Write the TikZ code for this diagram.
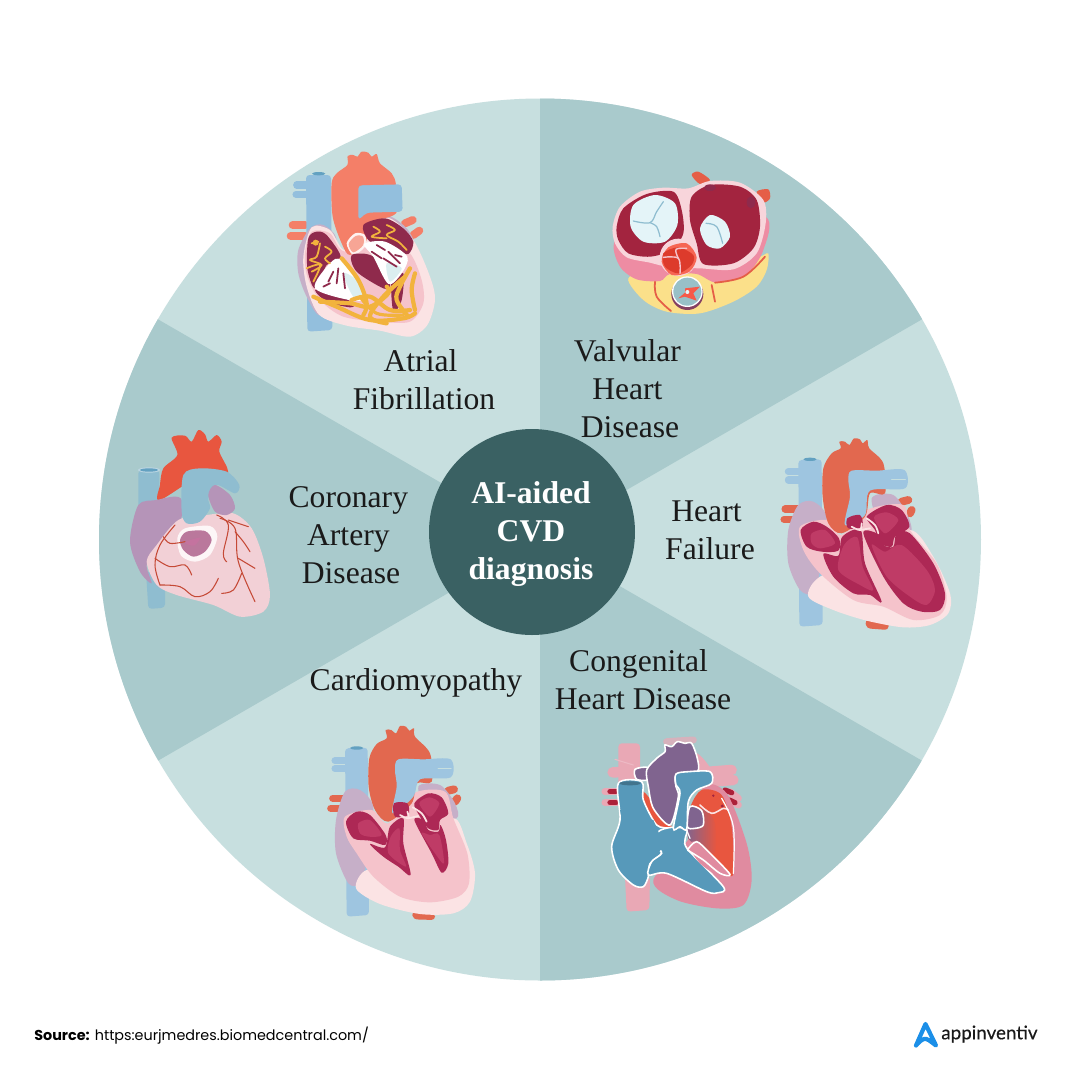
\documentclass[tikz,border=0pt]{standalone}
\usepackage{fontspec}
\setmainfont{Liberation Serif}
\newfontfamily\uisans{Poppins}
\newfontfamily\brandsans[FakeBold=0.3]{Lato}
\definecolor{wlite}{HTML}{C7DFDF}
\definecolor{wdark}{HTML}{A9CACC}
\definecolor{hub}{HTML}{3A6163}
\definecolor{inkc}{HTML}{1A1A1A}
\definecolor{vein}{HTML}{93BFDD}
\definecolor{veinB}{HTML}{8FBDD0}
\definecolor{sal}{HTML}{F47F68}
\definecolor{rust}{HTML}{E2684F}
\definecolor{lav}{HTML}{C6AFC8}
\definecolor{lavB}{HTML}{B594B8}
\definecolor{pale}{HTML}{FBE3E4}
\definecolor{pnk}{HTML}{F5C3CB}
\definecolor{mar}{HTML}{8F2A4C}
\definecolor{crim}{HTML}{AD2855}
\definecolor{crimL}{HTML}{BF3B66}
\definecolor{wine}{HTML}{A3243F}
\definecolor{ylw}{HTML}{F2B33D}
\definecolor{ice}{HTML}{E4F4F8}
\definecolor{butter}{HTML}{FBE08A}
\definecolor{band}{HTML}{EE8CA3}
\definecolor{cb}{HTML}{5799BA}
\definecolor{cpurp}{HTML}{80648F}
\definecolor{cpink}{HTML}{E08BA0}
\definecolor{cpale}{HTML}{E9A8B5}
\definecolor{cred}{HTML}{E8563F}
\definecolor{vred}{HTML}{DD3B2C}
\definecolor{ibody}{HTML}{F2D0D6}
\definecolor{logob}{HTML}{1B8FE8}
\newcommand{\blob}[2]{\fill[#1] plot[smooth cycle,tension=0.5] coordinates {#2};}
\newcommand{\oblob}[2]{\filldraw[#1,draw=white,line width=0.9pt] plot[smooth cycle,tension=0.5] coordinates {#2};}
\newcommand{\poly}[2]{\fill[#1,rounded corners=2pt] plot[sharp cycle] coordinates {#2};}
\newcommand{\wire}[3]{\draw[#1,line width=#2,line cap=round,line join=round] plot[smooth,tension=0.6] coordinates {#3};}
\tikzset{
  lbl/.style={font=\fontsize{18}{21.54}\selectfont,text=inkc,align=center,inner sep=0pt},
  hubtxt/.style={font=\fontsize{18}{21.54}\selectfont\bfseries,text=white,align=center,inner sep=0pt},
  zoomed/.style={shift={#1},scale=1/3}
}
\begin{document}
\begin{tikzpicture}[x=0.02cm,y=-0.02cm]
\useasboundingbox (0,0) rectangle (1080,1080);
\fill[white] (0,0) rectangle (1080,1080);
% wheel
\begin{scope}
\clip (540,539.5) circle[radius=441];
\fill[wlite] (0,0) rectangle (1080,1080);
\fill[wdark] (540,540) -- (540,60) -- (997,60) -- (997,276) -- cycle;
\fill[wdark] (540,540) -- (997,804) -- (997,1020) -- (540,1020) -- cycle;
\fill[wdark] (540,540) -- (83,276) -- (83,804) -- cycle;
\end{scope}

% ===== Atrial fibrillation heart =====
\begin{scope}[zoomed={(270,140)}]
\wire{vein}{4pt}{(80,135)(115,135)}
\wire{vein}{4pt}{(78,163)(115,163)}
\wire{sal}{4.5pt}{(68,255)(105,255)}
\wire{sal}{4.5pt}{(62,288)(105,288)}
\wire{sal}{4.5pt}{(405,250)(428,240)}
\wire{sal}{4.5pt}{(430,285)(448,272)}
\poly{vein}{(108,105)(183,105)(187,570)(112,575)}
\fill[cb!80!vein] (146,101) ellipse[x radius=20,y radius=5];
\blob{lav}{(120,265)(160,255)(200,300)(180,420)(150,525)(110,470)(85,400)(85,330)}
\blob{lav}{(270,235)(350,225)(410,265)(435,320)(400,350)(300,300)}
\blob{pale}{(125,262)(180,270)(225,330)(290,250)(360,235)(430,300)(480,410)(495,480)(472,555)(420,590)(330,572)(230,557)(148,525)(110,440)(100,350)}
\blob{pnk}{(125,275)(180,280)(225,335)(350,300)(420,340)(455,420)(460,490)(420,545)(330,545)(220,530)(150,480)(112,410)(105,340)}
\blob{sal}{(185,130)(200,100)(232,75)(233,48)(250,45)(262,50)(275,35)(295,38)(305,50)(320,42)(330,70)(365,100)(378,135)(378,220)(290,250)(290,300)(240,345)(215,310)(188,230)}
\blob{white!90!sal}{(230,310)(255,280)(285,285)(285,320)(250,345)}
\blob{sal!70!white}{(236,312)(257,288)(279,290)(279,316)(250,337)}
\poly{vein}{(265,136)(395,133)(398,215)(290,218)(265,240)}
\fill[sal] (265,135) .. controls (262,125) and (290,125) .. (300,135) -- cycle;
\blob{mar}{(115,295)(140,275)(170,285)(212,350)(170,375)(135,445)(112,385)}
\blob{mar}{(280,255)(345,235)(400,265)(430,305)(415,342)(375,330)(300,305)}
\blob{mar}{(245,345)(310,350)(360,435)(340,445)(260,395)}
\blob{mar}{(135,450)(180,452)(250,490)(240,502)(170,485)}
\blob{mar}{(365,420)(400,400)(395,480)(370,515)}
\blob{white}{(135,445)(180,370)(215,362)(290,465)(250,482)}
\blob{white}{(282,312)(345,305)(412,350)(395,400)(355,432)(310,350)}
\blob{ice!70!wlite}{(220,400)(260,420)(285,470)(250,470)}
\blob{ice!70!wlite}{(350,370)(395,385)(360,425)}
\wire{mar}{1pt}{(190,395)(175,425)}
\wire{mar}{1pt}{(205,385)(200,430)}
\wire{mar}{1pt}{(220,400)(225,445)}
\wire{mar}{1pt}{(180,430)(160,440)}
\wire{mar}{1pt}{(320,315)(345,330)}
\wire{mar}{1pt}{(305,335)(335,355)}
\wire{mar}{1pt}{(340,355)(380,380)}
\wire{mar}{1pt}{(355,335)(390,370)}
\wire{mar}{1pt}{(375,345)(395,350)}
% conduction lines
\wire{ylw}{1pt}{(125,310)(145,305)}
\wire{ylw}{1pt}{(150,310)(140,350)(120,360)(155,375)(125,395)}
\wire{ylw}{1pt}{(165,320)(185,335)(165,355)(180,370)}
\wire{ylw}{1pt}{(110,385)(150,375)(130,425)}
\wire{ylw}{1pt}{(310,260)(330,275)(305,290)(350,295)}
\wire{ylw}{1pt}{(350,255)(375,270)(350,285)(385,305)(410,330)}
\fill[ylw] (137,308) circle[radius=9];
\wire{ylw}{2.4pt}{(215,355)(265,420)(290,490)(280,525)}
\wire{ylw}{2.4pt}{(130,470)(200,500)(300,540)(400,535)(435,520)}
\wire{ylw}{2.4pt}{(150,485)(240,490)(300,500)(355,460)(350,440)}
\wire{ylw}{2.4pt}{(245,480)(300,470)(360,510)(420,510)}
\wire{ylw}{2.4pt}{(420,385)(390,440)(380,480)(415,530)}
\wire{ylw}{2.4pt}{(435,400)(425,450)(435,510)}
\wire{ylw}{2.4pt}{(405,410)(340,470)(300,530)(350,550)}
\wire{ylw}{1.8pt}{(270,470)(320,520)(400,525)}
\end{scope}

% ===== Valvular heart =====
\begin{scope}[zoomed={(600,170)}]
\blob{rust!90!red}{(275,15)(295,5)(330,30)(300,42)}
\blob{rust!90!red}{(470,65)(505,58)(510,85)(490,97)}
\blob{butter}{(85,325)(170,300)(350,310)(480,260)(505,250)(500,300)(470,350)(400,395)(300,430)(200,425)(130,390)}
\blob{band}{(42,220)(60,290)(110,328)(180,333)(210,312)(290,312)(350,338)(440,312)(490,240)(497,140)(300,120)(100,140)}
\blob{pnk!70!white}{(38,170)(60,110)(120,65)(190,53)(265,55)(330,33)(420,38)(490,90)(497,160)(470,250)(400,298)(300,295)(210,292)(150,278)(80,262)(45,220)}
\blob{wine}{(50,170)(70,115)(140,72)(220,65)(245,120)(250,190)(215,240)(150,260)(85,250)(55,210)}
\blob{wine}{(275,80)(330,45)(420,50)(470,90)(480,170)(460,235)(400,280)(310,282)(290,220)(270,150)}
\fill[mar] (330,53) ellipse[x radius=18,y radius=10];
\fill[mar] (453,97) ellipse[x radius=13,y radius=18];
\blob{ice}{(92,170)(100,105)(165,75)(225,100)(232,165)(195,215)(130,215)}
\wire{veinB}{0.7pt}{(100,153)(150,158)(170,125)(190,95)}
\wire{veinB}{0.7pt}{(150,158)(170,170)(180,200)}
\blob{ice}{(300,175)(330,135)(375,155)(390,200)(360,235)(320,225)}
\wire{veinB}{0.7pt}{(318,160)(350,170)(368,220)}
\fill[pnk!70!white] (235,262) circle[radius=56];
\blob{sal!80!red}{(205,232)(260,220)(290,262)(268,305)(215,315)(185,275)}
\blob{vred}{(190,250)(235,232)(280,255)(275,285)(235,310)(195,290)}
\wire{pnk}{0.8pt}{(190,262)(235,265)(240,310)}
\wire{pnk}{0.8pt}{(235,265)(228,238)(260,235)}
\fill[mar!80!cb] (262,372) circle[radius=48];
\fill[white] (262,365) circle[radius=46];
\fill[wdark!80!cb] (262,365) circle[radius=42];
\fill[sal!70!red] (255,355)--(300,350)--(280,370)--(290,392)--(255,380)--(235,385)--(255,368)--cycle;
\fill[ice] (262,366) circle[radius=6];
\wire{rust!90!red}{1pt}{(165,335)(170,380)(213,423)}
\wire{rust!90!red}{1pt}{(335,345)(345,395)}
\wire{rust!90!red}{1pt}{(345,338)(430,320)(495,260)}
\end{scope}

% ===== Heart failure heart =====
\begin{scope}[zoomed={(770,430)}]
\wire{vein!90!white}{4pt}{(55,125)(95,125)}
\wire{vein!90!white}{4pt}{(55,150)(95,150)}
\wire{rust}{4pt}{(45,237)(85,237)}
\wire{rust}{4pt}{(42,268)(85,268)}
\wire{rust}{4.5pt}{(395,215)(415,210)}
\wire{rust}{4.5pt}{(420,250)(425,240)}
\poly{vein!90!white}{(85,90)(155,88)(158,585)(88,590)}
\fill[cb!80!vein] (120,88) ellipse[x radius=20,y radius=5];
\poly{rust}{(285,570)(357,575)(355,600)(290,595)}
\blob{lav}{(85,225)(130,215)(170,265)(150,420)(130,490)(90,480)(55,400)(55,300)}
\blob{lav}{(305,205)(370,195)(415,260)(420,310)(340,300)}
\blob{pale}{(115,500)(150,440)(300,380)(420,300)(490,380)(540,490)(535,550)(480,585)(400,592)(290,572)(190,540)}
\blob{pnk}{(90,290)(170,270)(215,315)(290,240)(400,225)(420,300)(500,400)(530,500)(510,555)(430,570)(340,530)(250,510)(150,430)(100,360)}
\blob{rust}{(160,115)(185,70)(212,55)(208,35)(225,35)(238,45)(252,25)(270,28)(278,40)(292,30)(298,55)(340,100)(345,190)(300,190)(285,260)(215,310)(175,280)(158,200)}
\blob{vein!90!white}{(235,150)(245,122)(320,122)(403,120)(405,175)(300,182)(285,255)(225,285)(240,200)}
\wire{wlite}{0.8pt}{(365,149)(406,149)}
\blob{crim}{(92,300)(130,275)(170,290)(207,325)(205,362)(155,365)(110,350)}
\blob{crimL}{(125,310)(165,300)(195,340)(150,355)(125,340)}
\blob{crim}{(160,372)(205,377)(217,320)(272,300)(285,400)(335,515)(300,495)(250,490)(190,440)}
\blob{crimL}{(222,345)(262,322)(278,410)(310,480)(270,465)(205,420)}
\blob{crim}{(232,265)(270,255)(277,290)(235,295)}
\blob{crim}{(290,260)(350,225)(395,240)(418,290)(375,320)(365,350)(330,340)(315,300)}
\blob{crimL}{(312,262)(350,247)(385,270)(345,310)}
\blob{crim}{(280,310)(320,310)(340,345)(370,350)(380,310)(420,310)(490,400)(525,490)(510,540)(455,545)(400,520)(340,440)}
\blob{crimL}{(305,345)(345,365)(395,345)(470,420)(495,480)(470,525)(420,500)(350,440)}
\wire{pale}{1pt}{(290,265)(315,285)(325,310)}
\wire{pale}{1pt}{(275,280)(270,300)(245,290)}
\wire{pale}{1pt}{(270,300)(300,295)}
\end{scope}

% ===== Congenital heart =====
\begin{scope}[zoomed={(590,730)}]
\poly{cpale}{(85,40)(150,40)(150,170)(85,170)}
\poly{cpale}{(105,440)(180,440)(178,540)(110,545)}
\wire{cpale}{6pt}{(68,127)(140,125)}
\wire{cpale}{6pt}{(360,125)(425,120)}
\wire{cpale}{6pt}{(360,155)(430,150)}
\wire{cpale!70!wdark}{4pt}{(230,35)(310,30)}
\wire{cpale!80!white}{0.6pt}{(75,88)(130,105)}
\wire{cpale}{4pt}{(45,185)(90,185)}
\wire{cpale}{4pt}{(45,218)(90,218)}
\wire{cpale}{4pt}{(420,185)(445,205)}
\wire{cpale}{4pt}{(420,210)(445,225)}
\wire{wine!90!red}{3pt}{(60,185)(78,185)}
\wire{wine!90!red}{3pt}{(60,218)(78,218)}
\wire{wine!90!red}{3pt}{(405,180)(425,188)}
\wire{wine!90!red}{3pt}{(418,210)(435,218)}
\blob{cpale}{(320,70)(365,120)(380,175)(340,180)(300,120)}
\blob{cpink}{(190,450)(300,320)(340,170)(410,190)(470,340)(485,450)(460,525)(380,535)(260,510)}
\blob{cred}{(160,185)(195,225)(245,290)(200,285)(160,220)}
\oblob{cpurp}{(135,118)(175,113)(178,148)(140,148)}
\blob{cred}{(300,235)(335,180)(395,195)(425,290)(430,430)(400,425)(340,350)(295,325)}
\fill[wine] (370,197) circle[radius=4];
\fill[wine] (397,228) circle[radius=5];
\shade[left color=cpurp,right color=cred] plot[smooth cycle,tension=0.5] coordinates {(295,240)(345,240)(375,280)(375,370)(340,350)(295,325)};
\wire{pale}{0.9pt}{(330,225)(365,250)(400,235)(415,240)}
\oblob{cpurp}{(300,230)(335,242)(340,285)(315,295)(292,290)}
\oblob{cpurp}{(170,120)(200,85)(225,65)(225,45)(245,50)(262,35)(285,40)(305,40)(322,85)(322,125)(260,135)(258,170)(265,200)(240,285)(190,235)(175,170)}
\oblob{cb}{(85,160)(155,155)(160,210)(200,285)(240,295)(210,305)(200,350)(215,370)(180,400)(175,440)(160,470)(130,465)(85,420)(65,350)(90,270)}
\fill[cb!70!black!80!cb] (120,160) ellipse[x radius=32,y radius=6];
\oblob{cb}{(205,305)(245,292)(290,298)(285,330)(295,360)(400,470)(385,488)(350,485)(230,430)(175,435)(185,395)(215,370)(200,345)}
\fill[cb] (90,240) -- (190,270) -- (220,340) -- (170,410) -- (120,380) -- cycle;
\fill[cb] (200,320) -- (230,340) -- (180,395) -- (170,370) -- cycle;
\oblob{cb}{(258,132)(295,125)(360,125)(365,160)(320,180)(295,215)(290,297)(270,290)(250,295)(270,190)(258,165)}
\blob{cpink}{(295,345)(320,335)(350,365)(420,430)(390,440)(330,400)}
\draw[white,line width=0.9pt,smooth] plot[smooth,tension=0.5] coordinates {(292,360)(320,335)(360,370)(420,433)(390,430)(340,390)(292,360)};
\wire{white}{0.7pt}{(395,205)(430,290)(430,430)}
\wire{white}{0.7pt}{(300,325)(290,300)}
\end{scope}

% ===== Cardiomyopathy heart =====
\begin{scope}[zoomed={(320,720)}]
\wire{vein!90!white}{4pt}{(45,122)(85,122)}
\wire{vein!90!white}{4pt}{(45,146)(85,146)}
\wire{rust}{4pt}{(38,235)(75,235)}
\wire{rust}{4pt}{(32,265)(75,265)}
\wire{rust}{4.5pt}{(385,212)(402,208)}
\wire{rust}{4.5pt}{(405,245)(412,235)}
\poly{vein!90!white}{(75,85)(143,83)(147,585)(80,590)}
\fill[cb!80!vein] (110,84) ellipse[x radius=20,y radius=5];
\poly{rust}{(275,575)(345,580)(345,600)(280,598)}
\blob{lav}{(75,215)(120,210)(160,265)(140,420)(120,490)(85,490)(48,400)(48,300)}
\blob{lav}{(295,200)(360,195)(405,250)(410,295)(330,290)}
\blob{pale}{(108,505)(140,450)(250,460)(300,400)(400,295)(440,370)(465,460)(450,545)(400,580)(300,582)(180,552)}
\blob{pnk}{(75,290)(155,270)(205,310)(280,220)(375,215)(400,295)(442,400)(447,490)(415,530)(330,547)(240,530)(160,470)(110,400)(80,350)}
\blob{rust}{(148,115)(170,72)(200,55)(197,30)(214,30)(228,40)(240,18)(258,20)(268,32)(282,25)(285,50)(330,100)(335,185)(290,190)(275,250)(205,305)(165,270)(146,200)}
\blob{vein!90!white}{(225,150)(235,118)(310,118)(392,118)(392,172)(300,178)(280,230)(218,280)(230,200)}
\wire{wlite}{0.8pt}{(355,145)(393,145)}
\blob{crim}{(78,305)(110,275)(150,285)(197,345)(195,375)(150,362)(100,355)}
\blob{crimL}{(115,310)(150,300)(185,345)(145,350)(120,340)}
\blob{crim}{(150,372)(195,382)(210,320)(250,295)(250,370)(272,465)(235,440)(190,410)}
\blob{crimL}{(212,350)(238,325)(240,390)(258,440)(205,400)}
\blob{crim}{(222,250)(262,250)(265,285)(225,290)}
\blob{crim}{(283,250)(325,220)(365,232)(385,280)(360,300)(355,330)(325,325)(300,290)}
\blob{crimL}{(298,250)(328,232)(358,250)(330,290)}
\blob{crim}{(283,300)(310,300)(325,330)(355,335)(362,315)(378,360)(385,430)(365,458)(335,400)}
\blob{crimL}{(305,340)(330,345)(358,345)(372,430)(345,400)}
\wire{pale}{1pt}{(278,262)(305,280)(320,305)}
\wire{pale}{1pt}{(262,275)(265,295)(240,285)}
\wire{pale}{1pt}{(265,295)(295,288)}
\end{scope}

% ===== Coronary heart =====
\begin{scope}[zoomed={(120,425)}]
\poly{veinB}{(55,135)(118,135)(118,250)(55,250)}
\poly{veinB}{(78,440)(135,440)(135,548)(85,552)}
\fill[cb!40!white] (87,135) ellipse[x radius=33,y radius=8];
\fill[cb!80!vein] (87,135) ellipse[x radius=27,y radius=5];
\blob{cred}{(120,180)(130,130)(172,90)(155,38)(195,32)(215,50)(235,15)(255,28)(265,50)(290,30)(305,50)(298,80)(322,130)(320,160)(260,140)(120,225)}
\blob{lavB}{(55,240)(110,225)(160,215)(185,225)(180,290)(110,370)(80,420)(95,475)(60,440)(30,350)}
\blob{ibody}{(175,285)(260,270)(340,265)(395,310)(430,400)(450,510)(430,560)(360,575)(280,540)(170,510)(110,480)(80,410)(110,360)}
\blob{veinB}{(190,150)(240,130)(320,140)(358,180)(345,205)(290,180)(265,220)(270,250)(240,290)(200,295)(185,260)}
\blob{lavB}{(265,210)(285,180)(330,210)(345,250)(320,270)(285,260)}
\blob{white!85!pnk}{(172,340)(195,310)(270,303)(292,335)(270,390)(225,410)(183,392)}
\blob{lavB!60!crim!90!white}{(180,345)(200,320)(255,318)(275,345)(255,380)(220,395)(190,375)}
\blob{lavB!60!crim!110!black}{(195,352)(240,338)(222,362)}
\wire{cred!85!black}{0.6pt}{(120,480)(105,420)(120,360)(165,300)}
\wire{cred!85!black}{0.6pt}{(105,400)(150,425)(195,420)(215,450)}
\wire{cred!85!black}{0.6pt}{(120,480)(180,485)(225,515)(270,500)(295,460)}
\wire{cred!85!black}{0.6pt}{(130,335)(150,355)(195,350)}
\wire{cred!85!black}{0.6pt}{(290,270)(325,300)(310,385)(320,410)}
\wire{cred!85!black}{0.6pt}{(300,280)(345,310)(355,410)(405,530)}
\wire{cred!85!black}{0.6pt}{(325,285)(385,305)}
\wire{cred!85!black}{0.6pt}{(345,320)(370,350)(390,380)}
\wire{cred!85!black}{0.6pt}{(355,400)(405,430)}
\wire{cred!85!black}{0.6pt}{(365,445)(340,495)(305,505)}
\end{scope}

% hub
\node[circle,fill=hub,minimum size=206*0.02cm,inner sep=0pt] (hubc) at (532,532) {};
\node[hubtxt] (hubt) at (531,534) {AI-aided\\CVD\\diagnosis};
% labels
\node[lbl] (af) at (424,380) {\hspace*{-4pt}Atrial\\Fibrillation};
\node[lbl] (vh) at (630,389) {\hspace*{-3pt}Valvular\\\hspace*{-3pt}Heart\\Disease};
\node[lbl] (hf) at (710,530) {\hspace*{-4pt}Heart\\Failure};
\node[lbl] (ch) at (643,680) {\hspace*{-5pt}Congenital\\Heart Disease};
\node[lbl] (cm) at (416,683) {Cardiomyopathy};
\node[lbl] (ca) at (351,535) {\hspace*{-3pt}Coronary\\\hspace*{-3pt}Artery\\Disease};
% footer
\node[anchor=west,inner sep=0pt,font=\uisans\fontsize{8.17}{10}\selectfont,text=black] (src) at (34,1036) {\textbf{Source:} https:eurjmedres.biomedcentral.com/};
\node[anchor=west,inner sep=0pt,font=\brandsans\fontsize{10.7}{13}\selectfont,text=black!90] (brand) at (941,1034) {appinventiv};
\draw[logob,line width=2.4pt,line cap=round,line join=round] (916,1045.5) -- (925.5,1024) -- (936,1045.5) .. controls (930,1041) and (927,1038) .. (924,1039) .. controls (921,1040) and (918,1043) .. (916,1045.5);
\end{tikzpicture}
\end{document}
